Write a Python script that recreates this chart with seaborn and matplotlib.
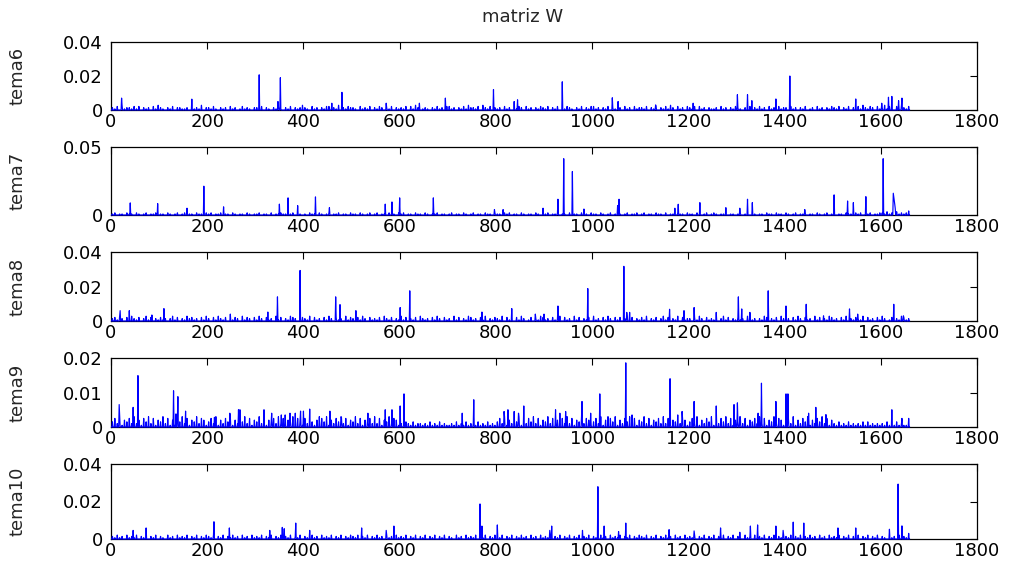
import numpy as np
import pandas as pd
import matplotlib
matplotlib.use('Agg')
import matplotlib.pyplot as plt
import seaborn as sns

# indices 1..1660 (columnas de la matriz W)
n_puntos = 1660

# picos visibles en cada fila (posición, valor)
tema6_picos = [(22, 0.007), (168, 0.0064), (308, 0.0207), (347, 0.005), (352, 0.019), (459, 0.004),
               (480, 0.0104), (572, 0.004), (641, 0.004), (695, 0.007), (795, 0.012), (838, 0.005),
               (845, 0.006), (938, 0.0166), (1042, 0.0072), (1054, 0.005), (1132, 0.003), (1210, 0.004),
               (1302, 0.009), (1323, 0.009), (1332, 0.0055), (1382, 0.0065), (1411, 0.02), (1548, 0.0065),
               (1602, 0.004), (1616, 0.0075), (1623, 0.008), (1637, 0.0055), (1644, 0.007)]
tema7_picos = [(40, 0.0089), (97, 0.0084), (158, 0.005), (193, 0.0212), (234, 0.006), (350, 0.008),
               (368, 0.0126), (388, 0.0069), (425, 0.0133), (454, 0.0054), (570, 0.008), (584, 0.0096),
               (600, 0.0126), (670, 0.0126), (797, 0.004), (815, 0.004), (898, 0.005), (929, 0.0116),
               (941, 0.0414), (959, 0.032), (983, 0.0044), (1053, 0.007), (1056, 0.0116), (1172, 0.005),
               (1179, 0.0079), (1224, 0.0091), (1278, 0.0054), (1307, 0.005), (1323, 0.0116), (1333, 0.0091),
               (1442, 0.004), (1503, 0.0148), (1531, 0.0103), (1543, 0.0091), (1569, 0.0135), (1605, 0.0414),
               (1626, 0.016), (1627, 0.0135), (1628, 0.011), (1629, 0.008), (1630, 0.005), (1658, 0.003)]
tema8_picos = [(19, 0.006), (38, 0.006), (85, 0.0035), (110, 0.0072), (248, 0.004), (326, 0.0052),
               (346, 0.014), (393, 0.0293), (467, 0.014), (476, 0.0095), (509, 0.006), (601, 0.0078),
               (621, 0.0175), (771, 0.0052), (833, 0.0072), (882, 0.004), (900, 0.004), (929, 0.0087),
               (991, 0.0188), (1066, 0.0317), (1072, 0.005), (1078, 0.005), (1161, 0.0068), (1191, 0.006),
               (1212, 0.0078), (1258, 0.005), (1304, 0.014), (1311, 0.007), (1328, 0.005), (1366, 0.0175),
               (1403, 0.0087), (1445, 0.0097), (1481, 0.003), (1535, 0.007), (1552, 0.004), (1627, 0.0097),
               (1647, 0.003)]
tema9_picos = [(17, 0.0065), (46, 0.0057), (56, 0.0149), (130, 0.0105), (135, 0.0038), (139, 0.0088),
               (155, 0.0046), (215, 0.0028), (247, 0.004), (265, 0.005), (268, 0.005), (318, 0.005),
               (334, 0.004), (354, 0.0035), (362, 0.0035), (372, 0.004), (383, 0.004), (394, 0.0046),
               (400, 0.0046), (413, 0.0052), (433, 0.003), (455, 0.0046), (479, 0.0028), (534, 0.004),
               (570, 0.005), (584, 0.005), (601, 0.0061), (609, 0.0096), (730, 0.004), (754, 0.0079),
               (817, 0.0045), (825, 0.005), (838, 0.0045), (847, 0.004), (858, 0.0061), (924, 0.005),
               (933, 0.004), (945, 0.0045), (979, 0.0074), (997, 0.004), (1016, 0.0096), (1033, 0.003),
               (1070, 0.0186), (1083, 0.0035), (1162, 0.014), (1178, 0.0035), (1187, 0.0045), (1212, 0.0074),
               (1258, 0.0061), (1295, 0.0065), (1302, 0.007), (1307, 0.003), (1345, 0.004), (1352, 0.0127),
               (1382, 0.0074), (1403, 0.0096), (1407, 0.0096), (1450, 0.004), (1465, 0.0057), (1486, 0.0036),
               (1623, 0.005), (1644, 0.0025), (1658, 0.0025)]
tema10_picos = [(46, 0.0046), (73, 0.0059), (214, 0.0092), (246, 0.0059), (330, 0.0046), (356, 0.0062),
                (360, 0.0055), (384, 0.0085), (413, 0.0046), (521, 0.0059), (572, 0.0046), (588, 0.0069),
                (767, 0.0187), (771, 0.0069), (803, 0.0075), (912, 0.0046), (916, 0.0069), (980, 0.0046),
                (1012, 0.0279), (1025, 0.0069), (1055, 0.004), (1070, 0.0085), (1160, 0.005), (1212, 0.0043),
                (1267, 0.0059), (1307, 0.0036), (1329, 0.0069), (1344, 0.0075), (1382, 0.0069), (1397, 0.0046),
                (1418, 0.009), (1440, 0.0085), (1511, 0.0059), (1548, 0.0059), (1618, 0.0052), (1636, 0.0293),
                (1644, 0.007), (1658, 0.003)]

# ruido de fondo: un valor cada 5 columnas, en unidades de ruido_unidad
tema6_ruido = ("2130412213" "1302120314" "2102130221" "1203121402" "2131021203" "1201312102"
               "2130210213" "1021302124" "2103120213" "3121402132" "2103121302" "1320213021"
               "2130314201" "2102131203" "3120213142" "2130421302" "1203120213" "2031202132"
               "1302130213" "2102130213" "3120213021" "1203120312" "2130213021" "3142031203"
               "2130312021" "1203120213" "2102130213" "1203120312" "2031202130" "1203120213"
               "2130213021" "3142132031" "2413203142" "13")
tema7_ruido = ("1201102110" "2101201120" "1102101201" "2011021102" "1201120110" "2101102101"
               "1201102011" "2110120110" "1021102101" "2011201102" "1102101201" "2011021102"
               "1201102110" "2101120110" "1201102101" "2011021102" "1102120110" "2101102101"
               "1201120110" "2011021102" "1102101201" "2101201120" "1201102110" "2011021102"
               "1102101201" "2101120110" "1201102101" "1021102110" "2101201120" "1102101201"
               "2011021102" "1201120112" "2131203121" "21")
tema8_ruido = ("2314203142" "1302413021" "3120241302" "1423120314" "2031421302" "1320413203"
               "1420312041" "3021432013" "2140312031" "4203120413" "2031420312" "1304213021"
               "4130213042" "1203142031" "2041302143" "1203140213" "2140312031" "4201302143"
               "1203124031" "2041302130" "4120314203" "1302413021" "3140213024" "1302140312"
               "2031420312" "1302413021" "3120431202" "1430213042" "1203142031" "2041302143"
               "1203140213" "2140312031" "4201302143" "12")
tema9_ruido = ("3526143526" "2415362514" "3625141536" "2514362541" "3526142536" "1425362514"
               "3625143526" "2514362541" "5263142536" "1425362514" "3625143526" "2514362541"
               "2132131221" "2131213121" "1213121312" "2131213121" "3526142536" "1425362514"
               "3625143526" "2514362541" "3526142536" "1425362514" "3625143526" "2514362541"
               "3526142536" "1425362514" "3625143526" "2514362541" "3526142536" "1425362514"
               "2131213121" "2131312121" "2131213121" "14")
tema10_ruido = ("2131203121" "3021302130" "2103120312" "1302130213" "2130213021" "3120312031"
                "2130213021" "3021302130" "2103120312" "1302130213" "2130213021" "3120312031"
                "2130213021" "3021302130" "2103120312" "1302130213" "2130213021" "3120312031"
                "2130213021" "3021302130" "2103120312" "1302130213" "2130213021" "3120312031"
                "2130213021" "3021302130" "2103120312" "1302130213" "2130213021" "3120312031"
                "2130213021" "3021302130" "2103120312" "13")
ruido_unidad = [0.0007, 0.0008, 0.0007, 0.0005, 0.0007]

etiquetas = ['tema6', 'tema7', 'tema8', 'tema9', 'tema10']
y_max = [0.04, 0.05, 0.04, 0.02, 0.04]
y_ticks = [[0, 0.02, 0.04], [0, 0.05], [0, 0.02, 0.04], [0, 0.01, 0.02], [0, 0.02, 0.04]]
y_ticklabels = [['0', '0.02', '0.04'], ['0', '0.05'], ['0', '0.02', '0.04'],
                ['0', '0.01', '0.02'], ['0', '0.02', '0.04']]
x_ticks = list(range(0, 1801, 200))

picos = [tema6_picos, tema7_picos, tema8_picos, tema9_picos, tema10_picos]
ruidos = [tema6_ruido, tema7_ruido, tema8_ruido, tema9_ruido, tema10_ruido]

sns.set_theme(style='white')
plt.rcParams['font.family'] = ['DejaVu Sans']
plt.rcParams['axes.unicode_minus'] = False

fig = plt.figure(figsize=(10.1, 5.67), dpi=100)

# posiciones de los ejes en píxeles (arriba, abajo)
filas_px = [(42, 110), (147, 215), (252, 321), (358, 427), (464, 539)]
izq, der = 111, 977

for k in range(5):
    serie = np.zeros(n_puntos)
    for i, c in enumerate(ruidos[k][:332]):
        serie[5 * i + 2] = int(c) * ruido_unidad[k]
    for pos, val in picos[k]:
        serie[pos - 1] = max(serie[pos - 1], val)
    df = pd.DataFrame({'col': np.arange(1, n_puntos + 1), 'w': serie})

    top, bot = filas_px[k]
    ax = fig.add_axes([izq / 1010, 1 - bot / 567, (der - izq) / 1010, (bot - top) / 567])
    sns.lineplot(data=df, x='col', y='w', ax=ax, color='#0000ff', linewidth=0.85,
                 estimator=None, clip_on=False, zorder=5)
    ax.set_xlim(0, 1800)
    ax.set_ylim(0, y_max[k])
    ax.set_xticks(x_ticks)
    ax.set_xticklabels([str(t) for t in x_ticks])
    ax.set_yticks(y_ticks[k])
    ax.set_yticklabels(y_ticklabels[k])
    ax.tick_params(direction='in', length=5, width=0.8, top=True, right=True,
                   labelsize=13, colors='black', pad=2)
    ax.tick_params(axis='y', pad=6)
    for s in ax.spines.values():
        s.set_color('black')
        s.set_linewidth(0.9)
    ax.set_xlabel('')
    ax.set_ylabel(etiquetas[k], fontsize=13)
    ax.yaxis.set_label_coords(-0.098, 0.5)

fig.text(523 / 1010, 1 - 17 / 567, 'matriz W', ha='center', va='center', fontsize=13)

fig.savefig('out.png', dpi=100)
